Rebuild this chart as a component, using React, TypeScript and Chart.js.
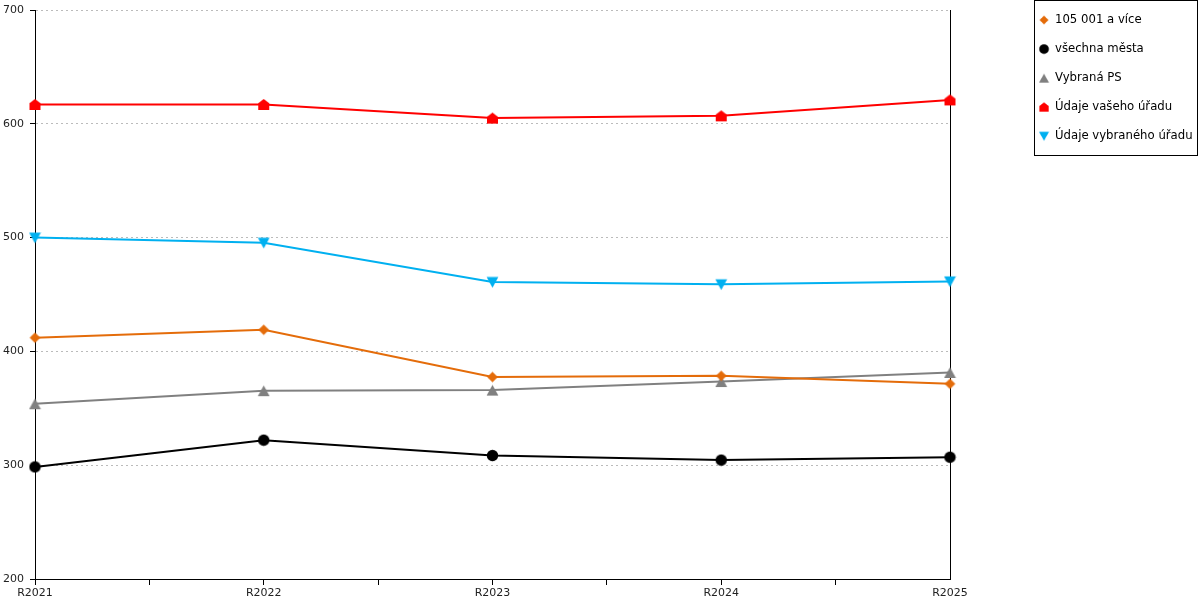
import React, { useEffect, useRef } from 'react';
import { Chart, registerables } from 'chart.js';

Chart.register(...registerables);

const categories = ['R2021', 'R2022', 'R2023', 'R2024', 'R2025'];
const seriesLabels = ['105 001 a více', 'všechna města', 'Vybraná PS', 'Údaje vašeho úřadu', 'Údaje vybraného úřadu'];
const values105001 = [412, 419, 377.5, 378.5, 371.5];
const valuesVsechnaMesta = [298.5, 322, 308.5, 304.5, 307];
const valuesVybranaPS = [354, 365.5, 366, 373.5, 381.5];
const valuesVasehoUradu = [617, 617, 605, 607, 621];
const valuesVybranehoUradu = [500, 495.5, 461, 459, 461.5];
const yMin = 200;
const yMax = 700;
const yStep = 100;

const seriesColors = ['#E46C0A', '#000000', '#808080', '#FF0000', '#00B0F0'];
const seriesShapes = ['diamond', 'circle', 'triangle', 'house', 'down'];

function makeMarker(kind: string, color: string): HTMLCanvasElement {
  const size = 13;
  const c = document.createElement('canvas');
  c.width = size;
  c.height = size;
  const g = c.getContext('2d')!;
  g.fillStyle = color;
  g.beginPath();
  const polys: Record<string, number[][]> = {
    diamond: [[6.5, 1.2], [11.8, 6.5], [6.5, 11.8], [1.2, 6.5]],
    triangle: [[6.5, 1.2], [12.4, 12], [0.6, 12]],
    house: [[6.5, 1], [12, 5.2], [12, 12], [1, 12], [1, 5.2]],
    down: [[0.6, 1.5], [12.4, 1.5], [6.5, 12.2]],
  };
  if (kind === 'circle') {
    g.arc(6.5, 6.5, 5.7, 0, Math.PI * 2);
  } else {
    const p = polys[kind];
    g.moveTo(p[0][0], p[0][1]);
    for (let i = 1; i < p.length; i++) g.lineTo(p[i][0], p[i][1]);
    g.closePath();
  }
  g.fill();
  return c;
}

export default function App() {
  const ref = useRef<HTMLCanvasElement | null>(null);

  useEffect(() => {
    if (!ref.current) return;
    const allValues = [values105001, valuesVsechnaMesta, valuesVybranaPS, valuesVasehoUradu, valuesVybranehoUradu];
    const markers = seriesShapes.map((s, i) => makeMarker(s, seriesColors[i]));

    const datasets = allValues.map((vals, i) => ({
      label: seriesLabels[i],
      data: vals.map((v, j) => ({ x: j, y: v })),
      borderColor: seriesColors[i],
      backgroundColor: seriesColors[i],
      borderWidth: 2,
      tension: 0,
      pointStyle: markers[i] as any,
      pointRadius: 6,
      clip: false as any,
    }));

    const boxLegend = {
      id: 'boxLegend',
      afterDraw(chart: any) {
        const ctx = chart.ctx;
        ctx.save();
        ctx.strokeStyle = '#000';
        ctx.lineWidth = 1;
        ctx.strokeRect(1034.5, 0.5, 163, 155);
        ctx.font = '11.7px "DejaVu Sans"';
        ctx.fillStyle = '#000';
        ctx.textBaseline = 'middle';
        ctx.textAlign = 'left';
        chart.data.datasets.forEach((ds: any, i: number) => {
          const cy = 20 + i * 29;
          ctx.drawImage(markers[i], 1044 - 5.5, cy - 5.5, 11, 11);
          ctx.fillText(ds.label, 1055, cy);
        });
        ctx.restore();
      },
    };

    const tickFont = { family: '"DejaVu Sans"', size: 11 };

    const chart = new Chart(ref.current, {
      type: 'line',
      data: { datasets: datasets as any },
      options: {
        responsive: false,
        animation: false,
        events: [],
        layout: { padding: { top: 10, right: 250, left: 0, bottom: 0 } },
        plugins: {
          legend: { display: false },
          tooltip: { enabled: false },
        },
        scales: {
          x: {
            type: 'linear',
            min: 0,
            max: categories.length - 1,
            offset: false,
            ticks: {
              stepSize: 0.5,
              autoSkip: false,
              maxRotation: 0,
              minRotation: 0,
              padding: 2,
              color: '#222',
              font: tickFont,
              callback: (v: any) => (Number.isInteger(v) ? categories[v] : ''),
            },
            grid: {
              display: true,
              drawOnChartArea: false,
              drawTicks: true,
              tickLength: 6,
              tickColor: (c: any) => (c.index === 8 ? 'rgba(0,0,0,0)' : '#000'),
            },
            border: { display: true, color: '#000', width: 1 },
            afterFit: (s: any) => {
              s.height = 21;
            },
          },
          y: {
            type: 'linear',
            position: 'left',
            min: yMin,
            max: yMax,
            ticks: {
              stepSize: yStep,
              padding: 6,
              color: '#222',
              font: tickFont,
            },
            grid: {
              color: '#BBBBBB',
              lineWidth: 1,
              drawTicks: true,
              tickLength: 5,
              tickColor: '#000',
              tickBorderDash: [],
            },
            border: { display: true, color: '#000', width: 1, dash: [2, 3] },
            afterFit: (s: any) => {
              s.width = 35;
              s.paddingTop = 6;
              s.paddingBottom = 6;
            },
          },
          y2: {
            type: 'linear',
            position: 'right',
            display: true,
            min: yMin,
            max: yMax,
            ticks: { display: false },
            grid: { display: false, drawTicks: false },
            border: { display: true, color: '#000', width: 1 },
            afterFit: (s: any) => {
              s.width = 0;
              s.paddingTop = 0;
              s.paddingBottom = 0;
            },
          },
        },
      } as any,
      plugins: [boxLegend],
    });

    return () => chart.destroy();
  }, []);

  return (
    <div style={{ position: 'fixed', left: 0, top: 0, width: 1200, height: 600, background: '#fff' }}>
      <canvas ref={ref} width={1200} height={600} style={{ display: 'block' }} />
    </div>
  );
}
